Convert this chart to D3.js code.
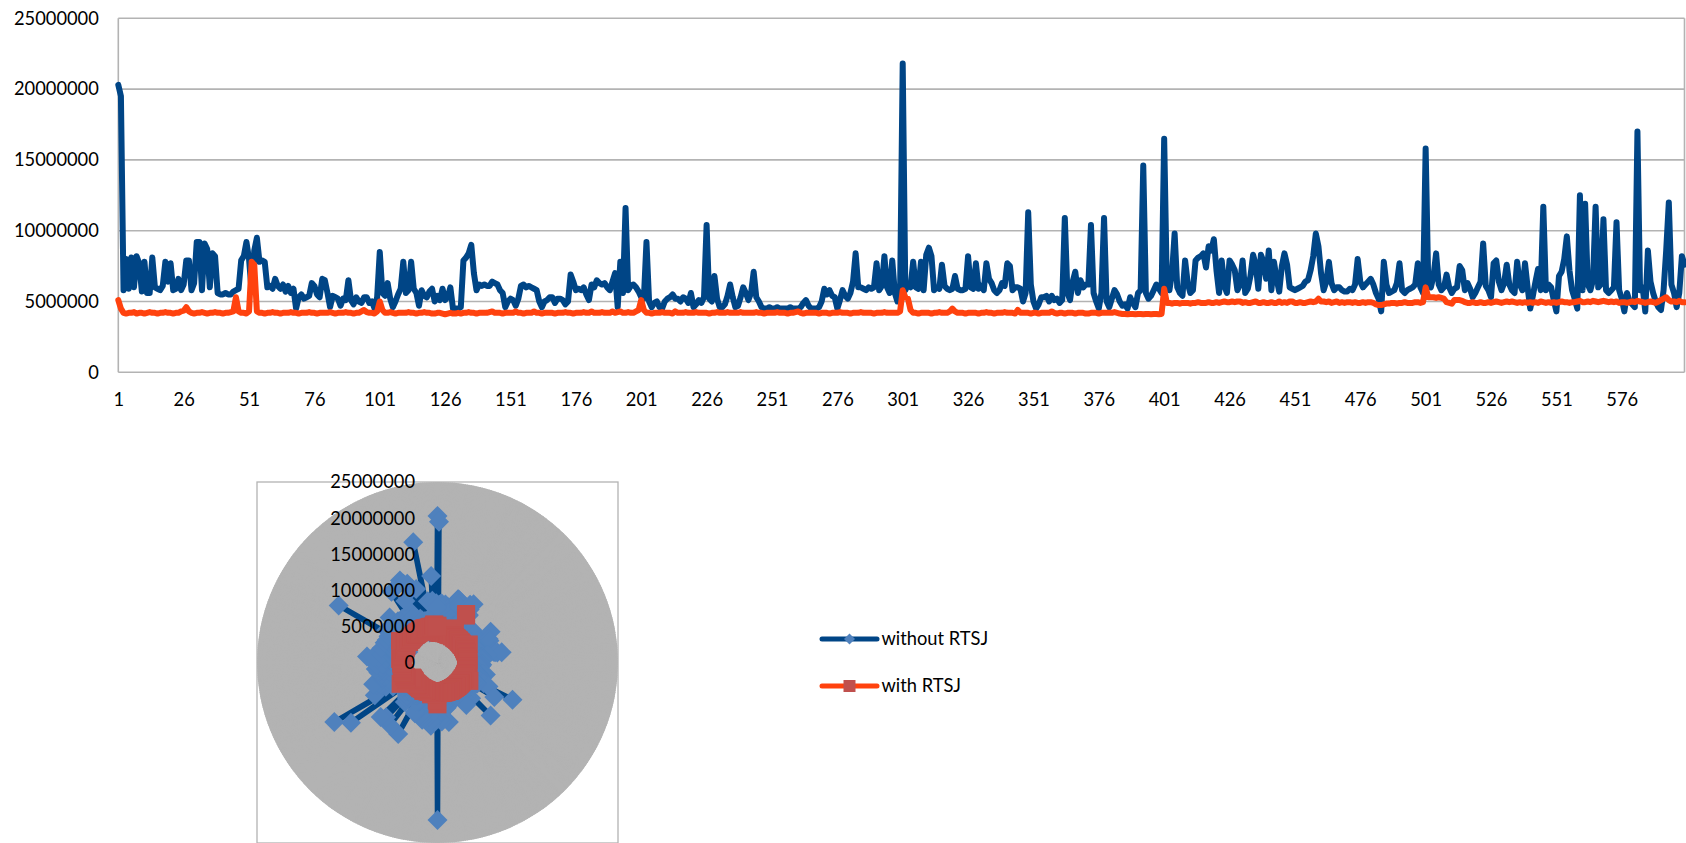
<!DOCTYPE html>
<html>
<head>
<meta charset="utf-8">
<script src="https://cdn.jsdelivr.net/npm/d3@7"></script>
<style>
  html, body { margin: 0; padding: 0; background: #ffffff; }
  svg { display: block; font-family: Lato, "Open Sans", sans-serif; }
</style>
</head>
<body>
<svg id="chart" width="1686" height="843"></svg>
<script>
// Run numbers 1..600
const categories = d3.range(1, 601);

// Measured times per run
const withoutRTSJ = [
  20.3e6,19.5e6,5.8e6,8.0e6,5.9e6,8.1e6,6.0e6,8.2e6,7.7e6,5.7e6,
  7.8e6,5.6e6,5.6e6,8.1e6,6.0e6,5.9e6,5.8e6,6.1e6,7.8e6,6.4e6,
  7.7e6,5.8e6,5.9e6,6.6e6,5.8e6,6.2e6,7.9e6,7.9e6,5.8e6,6.3e6,
  9.2e6,9.2e6,5.8e6,9.1e6,8.7e6,6.0e6,8.4e6,8.2e6,5.6e6,5.5e6,
  5.5e6,5.6e6,5.5e6,5.5e6,5.7e6,5.8e6,5.9e6,7.9e6,8.2e6,9.2e6,
  8.0e6,5.7e6,8.6e6,9.5e6,7.8e6,7.9e6,7.8e6,6.0e6,6.1e6,5.9e6,
  6.6e6,6.1e6,5.9e6,6.2e6,5.7e6,6.1e6,5.6e6,5.9e6,4.5e6,5.3e6,
  5.5e6,5.2e6,5.3e6,5.4e6,6.3e6,6.1e6,5.5e6,5.3e6,6.6e6,6.5e6,
  5.6e6,4.6e6,5.4e6,5.3e6,5.2e6,4.7e6,5.2e6,5.1e6,6.5e6,5.1e6,
  4.8e6,5.3e6,5.0e6,4.9e6,5.3e6,5.3e6,4.9e6,5.0e6,4.5e6,5.3e6,
  8.5e6,5.6e6,5.4e6,6.3e6,5.2e6,4.6e6,5.0e6,5.5e6,5.9e6,7.8e6,
  5.6e6,5.8e6,7.8e6,5.9e6,5.6e6,4.7e6,5.8e6,5.4e6,5.3e6,5.7e6,
  5.9e6,5.0e6,5.4e6,5.1e6,5.9e6,5.1e6,5.3e6,6.0e6,4.5e6,4.5e6,
  4.5e6,4.6e6,7.9e6,8.1e6,8.4e6,9.0e6,7.0e6,5.8e6,6.2e6,6.1e6,
  6.2e6,6.1e6,6.1e6,6.4e6,6.3e6,6.2e6,5.8e6,5.6e6,4.6e6,5.0e6,
  5.2e6,5.1e6,4.7e6,5.2e6,6.1e6,6.2e6,6.0e6,6.1e6,6.0e6,5.9e6,
  5.8e6,5.0e6,4.6e6,5.0e6,5.1e6,5.3e6,5.3e6,4.9e6,5.2e6,5.2e6,
  5.1e6,4.8e6,5.0e6,6.9e6,6.4e6,5.8e6,5.9e6,5.8e6,6.0e6,5.5e6,
  5.1e6,6.2e6,6.0e6,6.5e6,6.3e6,6.2e6,6.3e6,6.0e6,5.8e6,6.4e6,
  7.0e6,4.6e6,7.8e6,5.6e6,11.6e6,5.8e6,6.1e6,6.2e6,6.0e6,5.7e6,
  5.3e6,5.2e6,9.2e6,5.0e6,4.6e6,4.9e6,5.0e6,4.6e6,4.5e6,5.0e6,
  5.2e6,5.3e6,5.5e6,5.2e6,5.2e6,5.0e6,5.3e6,5.2e6,4.9e6,5.6e6,
  4.6e6,4.8e6,5.1e6,4.9e6,5.3e6,10.4e6,5.2e6,5.0e6,6.8e6,5.2e6,
  4.6e6,4.6e6,4.8e6,5.4e6,6.2e6,5.3e6,4.6e6,4.7e6,5.3e6,6.0e6,
  5.6e6,5.1e6,5.6e6,7.1e6,5.3e6,5.0e6,4.6e6,4.5e6,4.5e6,4.6e6,
  4.5e6,4.5e6,4.6e6,4.5e6,4.5e6,4.5e6,4.5e6,4.6e6,4.5e6,4.5e6,
  4.5e6,4.6e6,4.9e6,5.1e6,4.7e6,4.5e6,4.5e6,4.5e6,4.6e6,5.0e6,
  5.9e6,5.5e6,5.8e6,5.4e6,5.3e6,4.5e6,5.1e6,5.8e6,5.4e6,5.2e6,
  5.6e6,6.4e6,8.4e6,6.0e6,6.0e6,5.9e6,5.8e6,6.0e6,5.9e6,6.0e6,
  7.7e6,5.8e6,6.1e6,8.2e6,6.0e6,5.6e6,7.9e6,5.6e6,5.0e6,5.6e6,
  21.8e6,5.8e6,6.2e6,6.0e6,7.8e6,6.0e6,5.9e6,7.8e6,5.8e6,8.3e6,
  8.8e6,8.2e6,5.8e6,6.0e6,5.9e6,7.6e6,6.1e6,5.9e6,5.8e6,5.9e6,
  6.8e6,5.9e6,5.8e6,5.8e6,5.9e6,8.2e6,6.0e6,5.9e6,7.7e6,5.9e6,
  6.1e6,5.8e6,7.7e6,6.6e6,6.3e6,5.8e6,5.6e6,5.8e6,6.3e6,6.1e6,
  7.7e6,7.5e6,5.8e6,6.0e6,6.0e6,5.9e6,5.0e6,5.6e6,11.3e6,6.2e6,
  5.0e6,4.5e6,4.8e6,5.3e6,5.3e6,5.4e6,5.0e6,5.4e6,5.1e6,5.2e6,
  4.9e6,5.1e6,10.9e6,5.6e6,5.1e6,6.4e6,7.1e6,5.6e6,6.5e6,6.0e6,
  6.2e6,6.2e6,10.4e6,5.6e6,5.0e6,4.5e6,5.6e6,10.9e6,5.0e6,4.6e6,
  5.2e6,5.8e6,5.5e6,5.0e6,4.7e6,4.8e6,4.5e6,5.3e6,4.9e6,4.6e6,
  5.6e6,5.8e6,14.6e6,5.6e6,5.2e6,5.4e6,5.8e6,6.2e6,5.9e6,5.6e6,
  16.5e6,6.3e6,5.8e6,7.0e6,9.8e6,6.0e6,5.6e6,5.4e6,7.9e6,6.3e6,
  5.6e6,5.8e6,7.9e6,8.1e6,8.2e6,8.4e6,7.4e6,8.9e6,8.6e6,9.4e6,
  7.2e6,5.6e6,7.9e6,6.1e6,5.6e6,7.9e6,7.6e6,7.2e6,5.8e6,6.2e6,
  7.9e6,5.6e6,5.9e6,6.8e6,8.3e6,7.6e6,5.9e6,8.3e6,7.8e6,6.6e6,
  8.6e6,5.8e6,7.8e6,6.6e6,5.7e6,7.5e6,8.4e6,7.6e6,6.0e6,5.9e6,
  5.8e6,5.9e6,6.0e6,6.1e6,6.4e6,6.5e6,7.2e6,8.2e6,9.8e6,8.9e6,
  7.0e6,5.8e6,6.4e6,7.8e6,6.3e6,5.8e6,6.0e6,6.0e6,5.8e6,5.7e6,
  5.7e6,5.9e6,5.8e6,6.2e6,8.0e6,6.4e6,6.0e6,6.2e6,6.4e6,6.6e6,
  6.2e6,5.6e6,5.2e6,4.3e6,7.8e6,6.2e6,5.6e6,5.7e6,5.8e6,6.3e6,
  7.7e6,5.8e6,5.6e6,5.8e6,5.9e6,6.0e6,6.2e6,7.7e6,6.0e6,5.6e6,
  15.8e6,6.3e6,6.0e6,6.8e6,8.4e6,6.2e6,5.8e6,6.0e6,6.9e6,6.0e6,
  5.6e6,5.9e6,6.0e6,7.5e6,7.2e6,5.8e6,6.3e6,5.9e6,5.3e6,5.6e6,
  6.0e6,6.4e6,9.1e6,6.1e6,5.8e6,5.3e6,7.7e6,7.9e6,6.4e6,5.8e6,
  6.3e6,7.6e6,6.2e6,5.8e6,5.6e6,7.8e6,6.2e6,5.8e6,7.7e6,6.0e6,
  4.5e6,5.4e6,6.4e6,7.3e6,5.8e6,11.7e6,5.8e6,6.2e6,6.0e6,5.1e6,
  4.3e6,6.8e6,7.1e6,8.0e6,9.6e6,7.2e6,5.8e6,5.2e6,4.5e6,12.5e6,
  5.8e6,11.9e6,6.2e6,5.8e6,6.5e6,11.7e6,6.0e6,6.2e6,10.8e6,5.8e6,
  5.6e6,5.8e6,6.0e6,10.6e6,5.8e6,5.2e6,4.3e6,5.6e6,5.0e6,4.8e6,
  4.6e6,17.0e6,5.8e6,6.0e6,4.3e6,8.6e6,6.4e6,5.6e6,5.0e6,4.6e6,
  4.4e6,5.8e6,8.6e6,12.0e6,6.2e6,5.6e6,4.6e6,5.6e6,8.2e6,7.6e6
];

const withRTSJ = [
  5.1e6,4.5e6,4.2e6,4.15e6,4.2e6,4.2e6,4.25e6,4.15e6,4.2e6,4.2e6,
  4.15e6,4.2e6,4.25e6,4.2e6,4.2e6,4.15e6,4.2e6,4.2e6,4.25e6,4.2e6,
  4.2e6,4.15e6,4.2e6,4.2e6,4.3e6,4.35e6,4.6e6,4.3e6,4.2e6,4.15e6,
  4.2e6,4.2e6,4.25e6,4.2e6,4.15e6,4.2e6,4.2e6,4.25e6,4.2e6,4.2e6,
  4.15e6,4.2e6,4.2e6,4.25e6,4.3e6,5.3e6,4.3e6,4.2e6,4.2e6,4.15e6,
  4.3e6,7.8e6,7.6e6,4.3e6,4.2e6,4.2e6,4.15e6,4.2e6,4.2e6,4.25e6,
  4.2e6,4.2e6,4.15e6,4.2e6,4.2e6,4.2e6,4.25e6,4.2e6,4.2e6,4.15e6,
  4.2e6,4.2e6,4.2e6,4.25e6,4.2e6,4.2e6,4.15e6,4.2e6,4.2e6,4.2e6,
  4.2e6,4.25e6,4.2e6,4.15e6,4.2e6,4.2e6,4.2e6,4.25e6,4.2e6,4.2e6,
  4.15e6,4.2e6,4.2e6,4.3e6,4.4e6,4.25e6,4.2e6,4.2e6,4.15e6,4.3e6,
  5.0e6,4.4e6,4.2e6,4.2e6,4.25e6,4.2e6,4.15e6,4.2e6,4.2e6,4.2e6,
  4.2e6,4.25e6,4.2e6,4.2e6,4.15e6,4.2e6,4.2e6,4.25e6,4.2e6,4.2e6,
  4.15e6,4.15e6,4.2e6,4.2e6,4.15e6,4.1e6,4.15e6,4.2e6,4.15e6,4.15e6,
  4.2e6,4.15e6,4.2e6,4.2e6,4.25e6,4.2e6,4.2e6,4.15e6,4.2e6,4.2e6,
  4.2e6,4.2e6,4.25e6,4.3e6,4.2e6,4.2e6,4.2e6,4.15e6,4.2e6,4.2e6,
  4.2e6,4.2e6,4.3e6,4.2e6,4.2e6,4.15e6,4.2e6,4.2e6,4.2e6,4.3e6,
  4.2e6,4.2e6,4.15e6,4.2e6,4.2e6,4.2e6,4.2e6,4.15e6,4.2e6,4.2e6,
  4.2e6,4.25e6,4.2e6,4.2e6,4.15e6,4.2e6,4.2e6,4.2e6,4.25e6,4.2e6,
  4.2e6,4.3e6,4.2e6,4.2e6,4.2e6,4.25e6,4.2e6,4.2e6,4.2e6,4.3e6,
  4.2e6,4.25e6,4.3e6,4.2e6,4.2e6,4.25e6,4.2e6,4.2e6,4.3e6,4.4e6,
  5.1e6,4.4e6,4.2e6,4.2e6,4.15e6,4.2e6,4.2e6,4.2e6,4.25e6,4.2e6,
  4.2e6,4.2e6,4.15e6,4.3e6,4.2e6,4.2e6,4.2e6,4.25e6,4.2e6,4.2e6,
  4.2e6,4.25e6,4.2e6,4.2e6,4.2e6,4.2e6,4.15e6,4.2e6,4.2e6,4.25e6,
  4.2e6,4.2e6,4.2e6,4.25e6,4.2e6,4.2e6,4.2e6,4.2e6,4.25e6,4.2e6,
  4.2e6,4.2e6,4.2e6,4.2e6,4.25e6,4.2e6,4.2e6,4.15e6,4.2e6,4.2e6,
  4.2e6,4.2e6,4.25e6,4.2e6,4.2e6,4.2e6,4.15e6,4.2e6,4.2e6,4.25e6,
  4.3e6,4.2e6,4.15e6,4.2e6,4.2e6,4.2e6,4.2e6,4.2e6,4.15e6,4.2e6,
  4.2e6,4.2e6,4.15e6,4.2e6,4.2e6,4.2e6,4.25e6,4.2e6,4.2e6,4.2e6,
  4.15e6,4.2e6,4.2e6,4.2e6,4.25e6,4.2e6,4.2e6,4.2e6,4.2e6,4.15e6,
  4.2e6,4.2e6,4.2e6,4.25e6,4.2e6,4.2e6,4.2e6,4.2e6,4.2e6,4.3e6,
  5.8e6,5.3e6,5.2e6,4.4e6,4.2e6,4.2e6,4.15e6,4.2e6,4.2e6,4.2e6,
  4.2e6,4.15e6,4.2e6,4.2e6,4.25e6,4.2e6,4.2e6,4.2e6,4.3e6,4.5e6,
  4.3e6,4.2e6,4.2e6,4.2e6,4.15e6,4.2e6,4.2e6,4.2e6,4.2e6,4.15e6,
  4.2e6,4.2e6,4.25e6,4.2e6,4.2e6,4.15e6,4.2e6,4.2e6,4.2e6,4.25e6,
  4.2e6,4.2e6,4.2e6,4.15e6,4.4e6,4.2e6,4.2e6,4.2e6,4.2e6,4.15e6,
  4.2e6,4.2e6,4.15e6,4.2e6,4.2e6,4.2e6,4.2e6,4.3e6,4.2e6,4.15e6,
  4.2e6,4.2e6,4.15e6,4.2e6,4.2e6,4.2e6,4.15e6,4.2e6,4.2e6,4.2e6,
  4.15e6,4.15e6,4.2e6,4.2e6,4.2e6,4.15e6,4.2e6,4.2e6,4.2e6,4.2e6,
  4.2e6,4.25e6,4.2e6,4.15e6,4.12e6,4.12e6,4.1e6,4.12e6,4.12e6,4.1e6,
  4.12e6,4.12e6,4.1e6,4.12e6,4.12e6,4.1e6,4.12e6,4.12e6,4.1e6,4.12e6,
  5.9e6,4.9e6,4.9e6,4.85e6,4.9e6,4.9e6,4.85e6,4.9e6,4.9e6,4.9e6,
  4.85e6,4.9e6,4.9e6,4.95e6,4.9e6,4.9e6,4.9e6,4.95e6,4.9e6,4.9e6,
  4.95e6,4.9e6,4.95e6,5.0e6,4.95e6,4.95e6,5.0e6,4.95e6,5.0e6,5.0e6,
  4.9e6,4.95e6,4.9e6,4.9e6,4.95e6,5.0e6,4.9e6,4.9e6,4.95e6,4.9e6,
  4.9e6,4.95e6,4.9e6,4.9e6,5.0e6,4.9e6,4.95e6,4.9e6,5.0e6,5.0e6,
  4.9e6,4.9e6,4.95e6,4.9e6,4.9e6,4.95e6,5.0e6,4.95e6,5.0e6,5.2e6,
  5.0e6,5.0e6,4.95e6,5.0e6,4.9e6,4.95e6,5.0e6,4.9e6,4.95e6,4.9e6,
  4.95e6,4.95e6,4.9e6,4.95e6,4.9e6,4.9e6,4.95e6,4.9e6,4.95e6,4.95e6,
  4.9e6,4.8e6,4.75e6,4.75e6,4.8e6,4.85e6,4.85e6,4.9e6,4.9e6,4.85e6,
  4.9e6,4.9e6,4.95e6,4.9e6,4.9e6,4.9e6,4.95e6,4.95e6,4.9e6,4.95e6,
  6.0e6,5.3e6,5.3e6,5.3e6,5.25e6,5.3e6,5.25e6,5.2e6,4.95e6,4.9e6,
  4.85e6,5.1e6,5.1e6,5.1e6,5.05e6,4.95e6,4.9e6,4.9e6,4.95e6,4.9e6,
  4.9e6,4.95e6,4.9e6,4.9e6,4.95e6,4.9e6,4.95e6,5.0e6,4.95e6,4.9e6,
  4.95e6,5.0e6,4.95e6,5.0e6,4.95e6,4.9e6,4.95e6,4.9e6,4.95e6,4.9e6,
  4.95e6,4.9e6,4.95e6,4.9e6,5.0e6,4.95e6,4.9e6,4.95e6,4.9e6,4.95e6,
  4.9e6,4.95e6,5.0e6,4.95e6,4.95e6,4.9e6,4.95e6,4.95e6,5.0e6,5.05e6,
  4.95e6,4.95e6,5.0e6,4.95e6,5.05e6,5.0e6,4.95e6,5.0e6,5.05e6,5.0e6,
  4.95e6,5.0e6,4.95e6,5.0e6,4.9e6,4.95e6,4.95e6,4.9e6,4.95e6,5.0e6,
  4.95e6,5.05e6,5.0e6,4.95e6,4.9e6,4.95e6,5.0e6,4.95e6,4.9e6,5.0e6,
  5.1e6,5.2e6,5.3e6,5.1e6,5.0e6,5.0e6,4.95e6,5.05e6,4.95e6,4.95e6
];

const seriesNames = ["without RTSJ", "with RTSJ"];
const xTickLabels = [1, 26, 51, 76, 101, 126, 151, 176, 201, 226, 251, 276, 301, 326, 351, 376, 401, 426, 451, 476, 501, 526, 551, 576];
const yTickValues = [0, 5000000, 10000000, 15000000, 20000000, 25000000];

const LINE_BLUE = "#004586", LINE_ORANGE = "#ff420e";
const MARK_BLUE = "#4f81bd", MARK_RED = "#c0504d";
const GRID = "#b3b3b3";
const FONT = 18.3;

const svg = d3.select("#chart");
const series = [
  { name: seriesNames[0], values: withoutRTSJ, line: LINE_BLUE, mark: MARK_BLUE, shape: "diamond" },
  { name: seriesNames[1], values: withRTSJ, line: LINE_ORANGE, mark: MARK_RED, shape: "square" }
];

// ---------- Line chart ----------
const plot = { left: 118.3, right: 1684.5, top: 18.3, bottom: 372.3 };
const x = d3.scalePoint().domain(categories).range([plot.left, plot.right]);
const y = d3.scaleLinear().domain([0, 25e6]).range([plot.bottom, plot.top]);

const lineChart = svg.append("g");

lineChart.append("g").selectAll("line").data(yTickValues).join("line")
  .attr("x1", plot.left).attr("x2", plot.right)
  .attr("y1", d => y(d)).attr("y2", d => y(d))
  .attr("stroke", GRID).attr("stroke-width", 1.6);

lineChart.append("g").selectAll("line").data([plot.left, plot.right]).join("line")
  .attr("x1", d => d).attr("x2", d => d)
  .attr("y1", plot.top).attr("y2", plot.bottom)
  .attr("stroke", GRID).attr("stroke-width", 1.6);

const yAxis = lineChart.append("g").attr("transform", `translate(${plot.left},0)`)
  .call(d3.axisLeft(y).tickValues(yTickValues).tickFormat(d3.format("d")).tickSize(0).tickPadding(19.5));
yAxis.select(".domain").remove();
yAxis.selectAll("text").attr("font-size", FONT).attr("font-family", "Lato").attr("fill", "#000");

const xAxis = lineChart.append("g").attr("transform", `translate(0,${plot.bottom})`)
  .call(d3.axisBottom(x).tickValues(xTickLabels).tickSize(0).tickPadding(21));
xAxis.select(".domain").remove();
xAxis.selectAll("text").attr("font-size", FONT).attr("font-family", "Lato").attr("fill", "#000");

const line = d3.line().x((d, i) => x(categories[i])).y(d => y(d)).curve(d3.curveLinear);
lineChart.append("g").selectAll("path").data(series).join("path")
  .attr("d", s => line(s.values))
  .attr("fill", "none")
  .attr("stroke", s => s.line)
  .attr("stroke-width", 6)
  .attr("stroke-linejoin", "round")
  .attr("stroke-linecap", "round");

// ---------- Radar chart ----------
const cx = 437.5, cy = 662.5, R = 180.5;
const rad = d3.scaleLinear().domain([0, 25e6]).range([0, R]);
const ang = d3.scaleBand().domain(categories).range([0, 2 * Math.PI]).paddingInner(0).paddingOuter(0);

const radar = svg.append("g");

radar.append("rect")
  .attr("x", cx - R).attr("y", cy - R)
  .attr("width", 2 * R).attr("height", 2 * R)
  .attr("fill", "#fff").attr("stroke", GRID).attr("stroke-width", 1.3);

const rg = radar.append("g").attr("transform", `translate(${cx},${cy})`);

// plot disc and category spokes
rg.append("circle").attr("r", R).attr("fill", GRID);
rg.append("g").selectAll("line").data(categories).join("line")
  .attr("x1", 0).attr("y1", 0)
  .attr("x2", d => R * Math.sin(ang(d)))
  .attr("y2", d => -R * Math.cos(ang(d)))
  .attr("stroke", GRID).attr("stroke-width", 1.2);

const radial = d3.lineRadial()
  .angle((d, i) => ang(categories[i]))
  .radius(d => rad(d))
  .curve(d3.curveLinearClosed);

const diamond = h => `M0,${-h}L${h},0L0,${h}L${-h},0Z`;
const square = h => `M${-h},${-h}H${h}V${h}H${-h}Z`;

series.forEach(s => {
  rg.append("path")
    .attr("d", radial(s.values))
    .attr("fill", "none")
    .attr("stroke", s.line)
    .attr("stroke-width", 5.5)
    .attr("stroke-linejoin", "round");
  rg.append("g").selectAll("path").data(s.values).join("path")
    .attr("transform", (d, i) => {
      const a = ang(categories[i]);
      return `translate(${rad(d) * Math.sin(a)},${-rad(d) * Math.cos(a)})`;
    })
    .attr("d", s.shape === "diamond" ? diamond(10) : square(9))
    .attr("fill", s.mark);
});

// radial value labels
radar.append("g").selectAll("text").data(yTickValues).join("text")
  .attr("x", cx - 22.5)
  .attr("y", d => cy - rad(d))
  .attr("dy", "0.35em")
  .attr("text-anchor", "end")
  .attr("font-size", FONT)
  .attr("fill", "#000")
  .text(d => d3.format("d")(d));

// ---------- Legend ----------
const legend = svg.append("g");
const legendY = [639, 686];
series.forEach((s, k) => {
  const g = legend.append("g").attr("transform", `translate(0,${legendY[k]})`);
  g.append("line").attr("x1", 822).attr("x2", 877).attr("y1", 0).attr("y2", 0)
    .attr("stroke", s.line).attr("stroke-width", 5).attr("stroke-linecap", "round");
  g.append("path").attr("transform", "translate(849.5,0)")
    .attr("d", s.shape === "diamond" ? diamond(5.5) : square(6))
    .attr("fill", s.mark);
  g.append("text").attr("x", 881.5).attr("y", 0).attr("dy", "0.35em")
    .attr("font-size", FONT).attr("fill", "#000").text(s.name);
});
</script>
</body>
</html>
